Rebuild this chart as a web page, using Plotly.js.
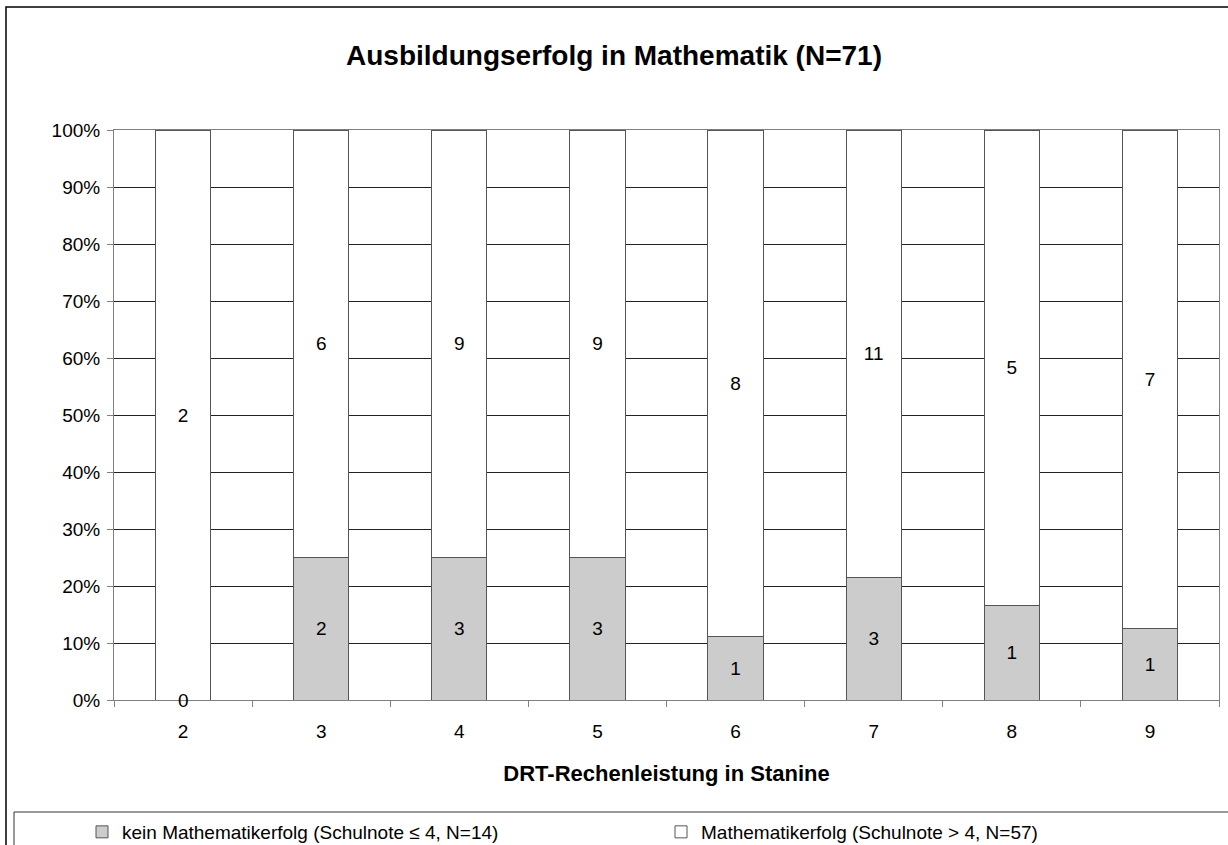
<!DOCTYPE html>
<html>
<head>
<meta charset="utf-8">
<script src="https://cdn.plot.ly/plotly-3.0.1.min.js"></script>
<style>
  html, body { margin: 0; padding: 0; background: #fff; overflow: hidden; }
  #chart { width: 1228px; height: 845px; }
</style>
</head>
<body>
<div id="chart"></div>
<script>
// Data
const categories = ['2', '3', '4', '5', '6', '7', '8', '9'];
const keinErfolg = [0, 2, 3, 3, 1, 3, 1, 1];      // kein Mathematikerfolg (Schulnote ≤ 4)
const erfolg = [2, 6, 9, 9, 8, 11, 5, 7];         // Mathematikerfolg (Schulnote > 4)
const seriesNames = [
  'kein Mathematikerfolg (Schulnote ≤ 4, N=14)',
  'Mathematikerfolg (Schulnote > 4, N=57)'
];
const titleText = 'Ausbildungserfolg in Mathematik (N=71)';
const xTitleText = 'DRT-Rechenleistung in Stanine';

const FONT = 'Liberation Sans, Arial, sans-serif';
// pixel -> paper helpers (plot area: x 114..1219, y 130..700)
const L = 114, R = 9, T = 130, B = 145;
const PW = 1228 - L - R, PH = 845 - T - B;
const px = p => (p - L) / PW;
const py = p => (845 - B - p) / PH;

const traces = [
  {
    type: 'bar',
    name: seriesNames[0],
    x: categories,
    y: keinErfolg,
    text: keinErfolg.map(String),
    texttemplate: '%{text}',
    textposition: 'inside',
    insidetextanchor: 'middle',
    constraintext: 'none',
    insidetextfont: { family: FONT, size: 19, color: '#000' },
    marker: { color: '#cccccc', line: { color: '#555555', width: 1 } },
    legend: 'legend',
    hoverinfo: 'x+y+name'
  },
  {
    type: 'bar',
    name: seriesNames[1],
    x: categories,
    y: erfolg,
    text: erfolg.map(String),
    texttemplate: '%{text}',
    textposition: 'inside',
    insidetextanchor: 'middle',
    constraintext: 'none',
    insidetextfont: { family: FONT, size: 19, color: '#000' },
    marker: { color: '#ffffff', line: { color: '#555555', width: 1 } },
    legend: 'legend2',
    hoverinfo: 'x+y+name'
  }
];

// labels for zero-height segments (Plotly draws no text inside an empty bar)
// on a category axis, annotation x is given as the category index
const zeroLabels = [];
categories.forEach((c, i) => {
  if (keinErfolg[i] === 0) {
    zeroLabels.push({
      x: i, y: 0, xref: 'x', yref: 'y',
      text: String(keinErfolg[i]), showarrow: false,
      xanchor: 'center', yanchor: 'middle',
      font: { family: FONT, size: 19, color: '#000' }
    });
  }
});

const legendCommon = {
  orientation: 'h',
  yanchor: 'middle',
  y: py(832),
  xanchor: 'left',
  bgcolor: 'rgba(0,0,0,0)',
  borderwidth: 0,
  font: { family: FONT, size: 19, color: '#000' }
};

const layout = {
  width: 1228,
  height: 845,
  margin: { l: L, r: R, t: T, b: B, pad: 0, autoexpand: false },
  paper_bgcolor: '#ffffff',
  plot_bgcolor: '#ffffff',
  font: { family: FONT, size: 19, color: '#000' },
  barmode: 'stack',
  barnorm: 'percent',
  bargap: 0.6,
  title: {
    text: '<b>' + titleText + '</b>',
    font: { family: FONT, size: 28, color: '#000' },
    x: 0.5, xref: 'container', xanchor: 'center',
    y: 1 - 55 / 845, yref: 'container', yanchor: 'middle'
  },
  xaxis: {
    type: 'category',
    tickson: 'boundaries',
    ticks: 'outside',
    ticklen: 6,
    tickcolor: '#808080',
    ticklabelstandoff: 14,
    showline: true,
    linecolor: '#808080',
    linewidth: 1,
    mirror: true,
    showgrid: false,
    tickfont: { family: FONT, size: 19, color: '#000' },
    title: {
      text: '<b>' + xTitleText + '</b>',
      font: { family: FONT, size: 22, color: '#000' },
      standoff: 24
    },
    automargin: false
  },
  yaxis: {
    range: [0, 100],
    dtick: 10,
    ticksuffix: '%',
    ticks: 'outside',
    ticklen: 6,
    tickcolor: '#808080',
    ticklabelstandoff: 3,
    showline: true,
    linecolor: '#808080',
    linewidth: 1,
    mirror: true,
    showgrid: true,
    gridcolor: '#222222',
    gridwidth: 1,
    zeroline: false,
    tickfont: { family: FONT, size: 19, color: '#000' },
    automargin: false,
    fixedrange: true
  },
  legend: Object.assign({}, legendCommon, { x: px(82) }),
  legend2: Object.assign({}, legendCommon, { x: px(661) }),
  showlegend: true,
  annotations: zeroLabels,
  shapes: [
    // outer chart border (left/top visible)
    {
      type: 'rect', xref: 'paper', yref: 'paper',
      x0: px(6), x1: px(1240), y0: py(860), y1: py(7),
      line: { color: '#000', width: 1.5 }, fillcolor: 'rgba(0,0,0,0)', layer: 'below'
    },
    // legend box
    {
      type: 'rect', xref: 'paper', yref: 'paper',
      x0: px(14), x1: px(1240), y0: py(860), y1: py(812),
      line: { color: '#333', width: 1 }, fillcolor: 'rgba(0,0,0,0)', layer: 'below'
    }
  ]
};

Plotly.newPlot('chart', traces, layout, { displayModeBar: false, staticPlot: true });
</script>
</body>
</html>
